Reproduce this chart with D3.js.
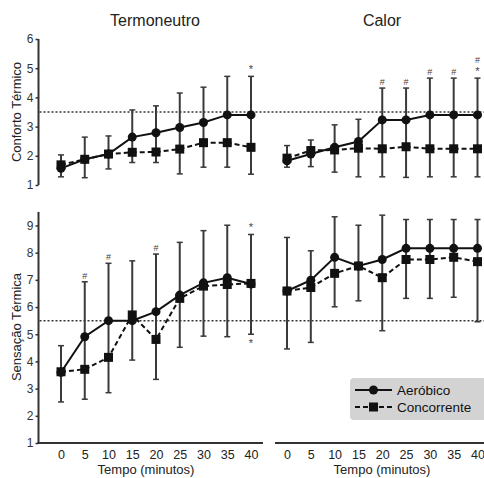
<!DOCTYPE html>
<html>
<head>
<meta charset="utf-8">
<script src="https://cdnjs.cloudflare.com/ajax/libs/d3/7.8.5/d3.min.js"></script>
<style>
  body { margin: 0; background: #fff; }
  svg { font-family: "Liberation Sans", Arial, sans-serif; }
</style>
</head>
<body>
<div class="chart"></div>
<script>
// time points (minutes)
let times = [0, 5, 10, 15, 20, 25, 30, 35, 40];

// Conforto Térmico - Termoneutro
let tnConfAer = [1.57, 1.88, 2.06, 2.64, 2.79, 2.97, 3.14, 3.40, 3.40];
let tnConfAerSD = [0.46, 0.76, 0.62, 0.93, 0.92, 1.18, 1.21, 1.32, 1.32];
let tnConfCon = [1.69, 1.88, 2.06, 2.12, 2.13, 2.23, 2.45, 2.45, 2.29];
let tnConfConSD = [0.41, 0.63, 0.51, 0.35, 0.36, 0.85, 0.84, 0.84, 0.92];

// Conforto Térmico - Calor
let calConfAer = [1.83, 2.06, 2.29, 2.49, 3.23, 3.23, 3.40, 3.40, 3.40];
let calConfAerSD = [0.52, 0.48, 0.77, 0.76, 1.09, 1.09, 1.26, 1.26, 1.26];
let calConfCon = [1.92, 2.18, 2.20, 2.26, 2.24, 2.31, 2.24, 2.24, 2.24];
let calConfConSD = [0.31, 0.55, 0.76, 0.98, 0.96, 1.05, 0.96, 0.96, 0.96];

// Sensação Térmica - Termoneutro
let tnSensAer = [3.60, 4.91, 5.50, 5.50, 5.83, 6.44, 6.89, 7.08, 6.85];
let tnSensAerSD = [0.98, 2.02, 2.11, 2.20, 2.12, 1.94, 1.92, 1.93, 1.82];
let tnSensCon = [3.62, 3.71, 4.15, 5.71, 4.81, 6.32, 6.77, 6.83, 6.87];
let tnSensConSD = [1.11, 1.10, 1.30, 1.66, 1.47, 1.80, 1.84, 1.92, 1.87];

// Sensação Térmica - Calor
let calSensAer = [6.59, 6.99, 7.83, 7.51, 7.75, 8.16, 8.16, 8.16, 8.16];
let calSensAerSD = [1.97, 1.08, 1.49, 1.50, 1.63, 1.06, 1.06, 1.06, 1.06];
let calSensCon = [6.59, 6.72, 7.24, 7.51, 7.08, 7.75, 7.75, 7.83, 7.67];
let calSensConSD = [2.13, 2.02, 1.23, 1.28, 1.95, 1.43, 1.43, 1.47, 2.21];

// significance marks (stacked above / below the bar)
let tnConfMarks = [{t: 40, above: ["*"], below: []}];
let calConfMarks = [
  {t: 20, above: ["#"], below: []},
  {t: 25, above: ["#"], below: []},
  {t: 30, above: ["#"], below: []},
  {t: 35, above: ["#"], below: []},
  {t: 40, above: ["*", "#"], below: []}
];
let tnSensMarks = [
  {t: 5, above: ["#"], below: []},
  {t: 10, above: ["#"], below: []},
  {t: 20, above: ["#"], below: []},
  {t: 40, above: ["*"], below: ["*"]}
];
let calSensMarks = [];

let confTicks = [1, 2, 3, 4, 5, 6];
let sensTicks = [1, 2, 3, 4, 5, 6, 7, 8, 9];
let confRef = 3.5;
let sensRef = 5.5;

let svgWidth = 484;
let svgHeight = 478;

let svg = d3.select(".chart")
  .append("svg")
  .attr("width", svgWidth)
  .attr("height", svgHeight);

let xLeft = d3.scaleLinear().domain([0, 40]).range([61, 251]);
let xRight = d3.scaleLinear().domain([0, 40]).range([287, 477.5]);

let yConf = d3.scaleLinear().domain([1, 6]).range([185, 39]);
let ySens = d3.scaleLinear().domain([1, 9]).range([443, 225.5]);

let axisX = 38.5;
let ink = "#111";
let barInk = "#3a3a3a";

// titles
svg.append("text")
  .attr("x", 155).attr("y", 26)
  .attr("text-anchor", "middle")
  .attr("font-size", 16).attr("fill", "#222")
  .text("Termoneutro");
svg.append("text")
  .attr("x", 382).attr("y", 26)
  .attr("text-anchor", "middle")
  .attr("font-size", 16).attr("fill", "#222")
  .text("Calor");

// y axes
function drawYAxis(yScale, ticks, topVal) {
  let g = svg.append("g")
    .attr("transform", `translate(${axisX}, 0)`)
    .call(d3.axisLeft(yScale).tickValues(ticks).tickFormat(d3.format("d"))
      .tickSize(3).tickPadding(2));
  g.select(".domain").remove();
  g.append("line")
    .attr("x1", 0).attr("x2", 0)
    .attr("y1", yScale(topVal)).attr("y2", yScale(1))
    .attr("stroke", "#333").attr("stroke-width", 2);
  g.selectAll(".tick line").attr("stroke", "#333").attr("stroke-width", 1.5);
  g.selectAll(".tick text")
    .attr("font-size", 12)
    .attr("fill", "#333")
    .attr("font-family", "Liberation Sans, Arial, sans-serif");
}
drawYAxis(yConf, confTicks, 6);
drawYAxis(ySens, sensTicks, 9.5);

svg.append("text")
  .attr("transform", "translate(21, 112) rotate(-90)")
  .attr("text-anchor", "middle")
  .attr("font-size", 13).attr("fill", "#222")
  .text("Conforto Térmico");
svg.append("text")
  .attr("transform", "translate(21, 327) rotate(-90)")
  .attr("text-anchor", "middle")
  .attr("font-size", 13).attr("fill", "#222")
  .text("Sensação Térmica");

// reference dotted lines
svg.append("line")
  .attr("x1", axisX + 1).attr("x2", svgWidth)
  .attr("y1", yConf(confRef)).attr("y2", yConf(confRef))
  .attr("stroke", "#333").attr("stroke-width", 1.5)
  .attr("stroke-dasharray", "2,2");
svg.append("line")
  .attr("x1", axisX + 1).attr("x2", svgWidth)
  .attr("y1", ySens(sensRef)).attr("y2", ySens(sensRef))
  .attr("stroke", "#333").attr("stroke-width", 1.5)
  .attr("stroke-dasharray", "2,2");

// x axes (bottom row only)
function drawXAxis(xScale, x1, x2) {
  let g = svg.append("g")
    .attr("transform", `translate(0, ${ySens(1)})`)
    .call(d3.axisBottom(xScale).tickValues(times).tickSize(0).tickPadding(7));
  g.select(".domain").remove();
  g.append("line")
    .attr("x1", x1).attr("x2", x2)
    .attr("y1", 0).attr("y2", 0)
    .attr("stroke", "#333").attr("stroke-width", 2);
  g.selectAll(".tick text")
    .attr("font-size", 12.5)
    .attr("fill", "#222")
    .attr("font-family", "Liberation Sans, Arial, sans-serif");
}
drawXAxis(xLeft, axisX - 1, 263);
drawXAxis(xRight, 275, svgWidth);

svg.append("text")
  .attr("x", 146).attr("y", 474)
  .attr("text-anchor", "middle")
  .attr("font-size", 13).attr("fill", "#222")
  .text("Tempo (minutos)");
svg.append("text")
  .attr("x", 382).attr("y", 474)
  .attr("text-anchor", "middle")
  .attr("font-size", 13).attr("fill", "#222")
  .text("Tempo (minutos)");

function drawPanel(xScale, yScale, aer, aerSD, con, conSD, marks) {
  let g = svg.append("g");
  let rows = times.map((t, i) => ({
    t: t, aer: aer[i], aerTop: aer[i] + aerSD[i],
    con: con[i], conBot: con[i] - conSD[i]
  }));

  // error bars: aeróbico upwards, concorrente downwards
  let bars = g.selectAll(".bar").data(rows).enter().append("g");
  bars.append("line")
    .attr("x1", d => xScale(d.t)).attr("x2", d => xScale(d.t))
    .attr("y1", d => yScale(d.aerTop))
    .attr("y2", d => yScale(d.conBot))
    .attr("stroke", barInk).attr("stroke-width", 2);
  bars.append("line")
    .attr("x1", d => xScale(d.t) - 3).attr("x2", d => xScale(d.t) + 3)
    .attr("y1", d => yScale(d.aerTop)).attr("y2", d => yScale(d.aerTop))
    .attr("stroke", barInk).attr("stroke-width", 1.5);
  bars.append("line")
    .attr("x1", d => xScale(d.t) - 3).attr("x2", d => xScale(d.t) + 3)
    .attr("y1", d => yScale(d.conBot)).attr("y2", d => yScale(d.conBot))
    .attr("stroke", barInk).attr("stroke-width", 1.5);

  let conLine = d3.line().x(d => xScale(d.t)).y(d => yScale(d.con));
  let aerLine = d3.line().x(d => xScale(d.t)).y(d => yScale(d.aer));

  g.append("path")
    .attr("d", conLine(rows))
    .attr("fill", "none").attr("stroke", ink)
    .attr("stroke-width", 2).attr("stroke-dasharray", "5,3");
  g.append("path")
    .attr("d", aerLine(rows))
    .attr("fill", "none").attr("stroke", ink)
    .attr("stroke-width", 2);

  g.selectAll(".sq").data(rows).enter().append("rect")
    .attr("x", d => xScale(d.t) - 4.5)
    .attr("y", d => yScale(d.con) - 4.5)
    .attr("width", 9).attr("height", 9)
    .attr("fill", ink);
  g.selectAll(".dot").data(rows).enter().append("circle")
    .attr("cx", d => xScale(d.t))
    .attr("cy", d => yScale(d.aer))
    .attr("r", 4.5)
    .attr("fill", ink);

  marks.forEach(function(m) {
    let r = rows[times.indexOf(m.t)];
    m.above.forEach(function(s, k) {
      g.append("text")
        .attr("x", xScale(m.t))
        .attr("y", yScale(r.aerTop) - 3 - k * 12)
        .attr("text-anchor", "middle")
        .attr("font-size", s === "#" ? 9 : 11)
        .attr("fill", "#444")
        .text(s);
    });
    m.below.forEach(function(s, k) {
      g.append("text")
        .attr("x", xScale(m.t))
        .attr("y", yScale(r.conBot) + 13 + k * 12)
        .attr("text-anchor", "middle")
        .attr("font-size", 11)
        .attr("fill", "#444")
        .text(s);
    });
  });
}

drawPanel(xLeft, yConf, tnConfAer, tnConfAerSD, tnConfCon, tnConfConSD, tnConfMarks);
drawPanel(xRight, yConf, calConfAer, calConfAerSD, calConfCon, calConfConSD, calConfMarks);
drawPanel(xLeft, ySens, tnSensAer, tnSensAerSD, tnSensCon, tnSensConSD, tnSensMarks);
drawPanel(xRight, ySens, calSensAer, calSensAerSD, calSensCon, calSensConSD, calSensMarks);

// legend
let legend = svg.append("g");
legend.append("rect")
  .attr("x", 350).attr("y", 378)
  .attr("width", 140).attr("height", 42)
  .attr("rx", 4)
  .attr("fill", "#d3d3d3");
legend.append("line")
  .attr("x1", 355).attr("x2", 392).attr("y1", 390).attr("y2", 390)
  .attr("stroke", ink).attr("stroke-width", 2);
legend.append("circle")
  .attr("cx", 373.5).attr("cy", 390).attr("r", 4.5).attr("fill", ink);
legend.append("line")
  .attr("x1", 355).attr("x2", 392).attr("y1", 407).attr("y2", 407)
  .attr("stroke", ink).attr("stroke-width", 2).attr("stroke-dasharray", "5,3");
legend.append("rect")
  .attr("x", 369).attr("y", 402.5).attr("width", 9).attr("height", 9).attr("fill", ink);
legend.append("text")
  .attr("x", 397).attr("y", 395)
  .attr("font-size", 13.5).attr("fill", "#111")
  .text("Aeróbico");
legend.append("text")
  .attr("x", 397).attr("y", 412)
  .attr("font-size", 13.5).attr("fill", "#111")
  .text("Concorrente");
</script>
</body>
</html>
